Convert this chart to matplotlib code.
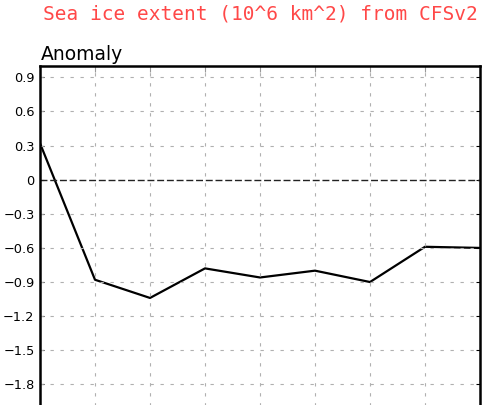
import numpy as np
import matplotlib
matplotlib.use('Agg')
import matplotlib.pyplot as plt

# anomaly values
steps = [0, 1, 2, 3, 4, 5, 6, 7, 8]
anomaly = [0.32, -0.88, -1.04, -0.78, -0.86, -0.80, -0.90, -0.59, -0.60]
yticks = [0.9, 0.6, 0.3, 0, -0.3, -0.6, -0.9, -1.2, -1.5, -1.8]
ytick_labels = ['0.9', '0.6', '0.3', '0', '\u22120.3', '\u22120.6', '\u22120.9',
                '\u22121.2', '\u22121.5', '\u22121.8']

W, H = 490, 405
fig = plt.figure(figsize=(W / 100, H / 100), dpi=100)

ymin, ymax = -2.1, 1.0
ppu = 113.7  # pixels per unit
ax_h = (ymax - ymin) * ppu
top = H - 66
ax = fig.add_axes([40 / W, (top - ax_h) / H, 440 / W, ax_h / H])

ax.plot(steps, anomaly, color='black', lw=1.6)
ax.axhline(0, color='#222222', lw=1.0, ls=(0, (5, 2)))

ax.set_xlim(0, 8)
ax.set_ylim(ymin, ymax)
ax.set_yticks(yticks)
ax.set_yticklabels(ytick_labels, fontsize=9.3)
ax.set_xticks(steps[1:-1])
ax.tick_params(axis='x', which='both', bottom=False, labelbottom=False,
               top=True, direction='in', length=4, width=0.8, color='#999999')
ax.tick_params(axis='y', direction='in', length=3, width=0.8, pad=4,
               right=True, color='black')

for y in yticks:
    if y != 0:
        ax.axhline(y, color='#b0b0b0', lw=0.8, ls=(0, (3, 6)))
for x in steps[1:-1]:
    ax.axvline(x, color='#b0b0b0', lw=0.8, ls=(0, (3, 6)))

for s in ax.spines.values():
    s.set_linewidth(1.8)
    s.set_color('black')

fig.text(43 / W, 1 - 14 / H, 'Sea ice extent (10^6 km^2) from CFSv2',
         color='#ff4848', fontsize=14, family='DejaVu Sans Mono',
         ha='left', va='center')
fig.text(41 / W, 1 - 54 / H, 'Anomaly', color='black', fontsize=13.5,
         ha='left', va='center')

fig.savefig('out.png', dpi=100)
